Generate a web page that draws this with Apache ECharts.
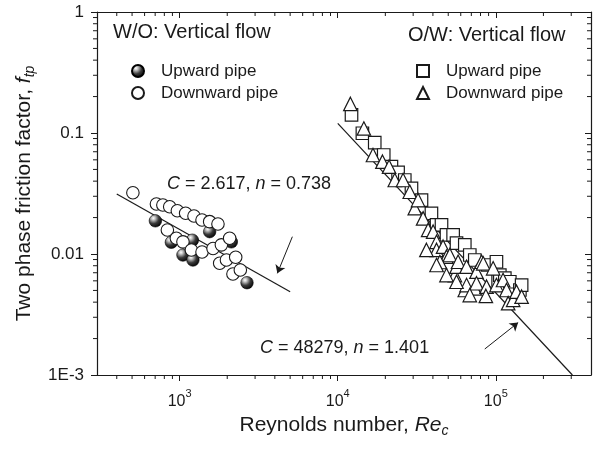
<!DOCTYPE html>
<html>
<head>
<meta charset="utf-8">
<script src="https://cdn.jsdelivr.net/npm/echarts@6/dist/echarts.min.js"></script>
<style>
html,body{margin:0;padding:0;background:#fff;}
#chart{width:597px;height:450px;}
</style>
</head>
<body>
<div id="chart"></div>
<script>
// ---- axis ranges & tick labels ----
const xMin = 300, xMax = 400000;
const yMin = 0.001, yMax = 1;
const xTickExponents = [3, 4, 5];
const yTickValues = [1, 0.1, 0.01, 0.001];
const yTickLabels = ['1', '0.1', '0.01', '1E-3'];
const xMinorTicks = [400,500,600,700,800,900,2000,3000,4000,5000,6000,7000,8000,9000,
  20000,30000,40000,50000,60000,70000,80000,90000,200000,300000];
const yMinorTicks = [0.002,0.003,0.004,0.005,0.006,0.007,0.008,0.009,
  0.02,0.03,0.04,0.05,0.06,0.07,0.08,0.09,0.2,0.3,0.4,0.5,0.6,0.7,0.8,0.9];

// ---- W/O : vertical flow ----
const woUpward = [
  [702,0.0188],[1548,0.0153],[886,0.0125],[1203,0.0130],[1049,0.00981],
  [1213,0.00892],[2123,0.0126],[2667,0.00579]
];
const woDownward = [
  [506,0.0321],[713,0.0259],[783,0.0254],[865,0.0246],[967,0.0228],[1091,0.0217],
  [1232,0.0206],[1385,0.0191],[1548,0.0185],[1747,0.0177],[836,0.0158],[953,0.0135],
  [1049,0.0126],[1186,0.0108],[1385,0.0104],[1626,0.0111],[1836,0.0119],[2071,0.0135],
  [1791,0.00838],[1977,0.00892],[2262,0.00939],[2173,0.00684],[2420,0.00738]
];
// ---- O/W : vertical flow ----
const owUpward = [
  [12220,0.141],[14320,0.0995],[17140,0.0832],[19540,0.0658],[21860,0.0527],
  [24080,0.0473],[26550,0.0409],[29270,0.0349],[33870,0.0279],[39150,0.0217],
  [42170,0.0174],[45330,0.0174],[48740,0.0144],[53690,0.0144],[56400,0.0123],
  [63640,0.0119],[68440,0.00981],[73600,0.00892],[88900,0.00811],[100900,0.00863],
  [103400,0.00610],[106000,0.00670],[114000,0.00633],[122600,0.00590],
  [142000,0.00504],[145600,0.00554]
];
const owDownward = [
  [12020,0.174],[14630,0.109],[16710,0.0658],[19180,0.0579],[21130,0.0527],
  [22960,0.0409],[25900,0.0409],[28550,0.0327],[30710,0.0239],[32220,0.0279],
  [34680,0.0197],[37320,0.0158],[40130,0.0153],[42170,0.0126],[42170,0.0108],
  [46380,0.0115],[48740,0.00950],[51150,0.00981],[44260,0.00859],[55090,0.00670],
  [56400,0.00785],[57720,0.00863],[63640,0.00504],[65280,0.00785],[65280,0.00554],
  [73600,0.00520],[75460,0.00714],[75460,0.00573],[81260,0.00863],[83240,0.00838],
  [87370,0.00537],[96150,0.00762],[100900,0.00554],[111100,0.00610],[116800,0.00504],
  [119700,0.00392],[128700,0.00417],[135200,0.00488],[145600,0.00444],
  [36390,0.0108],[42170,0.00811],[48740,0.00670],[56400,0.00590],[68440,0.00458],
  [86500,0.00450]
];
// ---- correlation lines (end points) ----
const woFit = [[400,0.0313],[5000,0.00487]];
const owFit = [[10000,0.120],[305000,0.001]];
const woArrow = [[5164,0.0139],[4150,0.00692]];
const owArrow = [[85110,0.00164],[138400,0.00271]];

const FONT = '"Liberation Sans", Arial, sans-serif';
const INK = '#1a1a1a';

const sphere = {
  type: 'radial', x: 0.35, y: 0.3, r: 0.75,
  colorStops: [
    {offset: 0, color: '#ffffff'},
    {offset: 0.18, color: '#c8c8c8'},
    {offset: 0.55, color: '#3a3a3a'},
    {offset: 1, color: '#000000'}
  ]
};

function tickSeries(isX) {
  return {
    type: 'custom', coordinateSystem: 'cartesian2d', silent: true, clip: false, z: 5,
    data: isX ? xMinorTicks.map(v => [v, yMin]) : yMinorTicks.map(v => [xMin, v]),
    renderItem: function (params, api) {
      const L = 4;
      const st = {stroke: INK, lineWidth: 1};
      if (isX) {
        const b = api.coord([api.value(0), yMin]);
        const t = api.coord([api.value(0), yMax]);
        return {type: 'group', children: [
          {type: 'line', shape: {x1: b[0], y1: b[1], x2: b[0], y2: b[1] + L}, style: st},
          {type: 'line', shape: {x1: t[0], y1: t[1], x2: t[0], y2: t[1] + L}, style: st}
        ]};
      } else {
        const l = api.coord([xMin, api.value(1)]);
        const r = api.coord([xMax, api.value(1)]);
        return {type: 'group', children: [
          {type: 'line', shape: {x1: l[0], y1: l[1], x2: l[0] - L, y2: l[1]}, style: st},
          {type: 'line', shape: {x1: r[0], y1: r[1], x2: r[0] - L, y2: r[1]}, style: st}
        ]};
      }
    }
  };
}

function arrowLine(pts) {
  return {
    silent: true, symbol: ['none', 'arrow'], symbolSize: 8,
    label: {show: false}, emphasis: {disabled: true},
    lineStyle: {color: INK, width: 1, type: 'solid'},
    data: [[{coord: pts[0]}, {coord: pts[1]}]]
  };
}

const axisCommonX = {
  type: 'log', logBase: 10, min: xMin, max: xMax,
  axisLine: {show: true, onZero: false, lineStyle: {color: INK, width: 1.2}},
  splitLine: {show: false}
};
const axisCommonY = {
  type: 'log', logBase: 10, min: yMin, max: yMax,
  axisLine: {show: true, onZero: false, lineStyle: {color: INK, width: 1.2}},
  splitLine: {show: false}
};

const legendText = {fontFamily: FONT, fontSize: 17, color: INK, lineHeight: 18, padding: [0, 0, 0, 12]};

const option = {
  animation: false,
  backgroundColor: '#fff',
  grid: {left: 97, right: 6, top: 12, bottom: 75},
  xAxis: [
    Object.assign({}, axisCommonX, {
      position: 'bottom',
      axisTick: {show: true, inside: false, length: 6, lineStyle: {color: INK}},
      axisLabel: {
        show: true, margin: 13, showMinLabel: false, showMaxLabel: false,
        formatter: function (v) {
          const e = Math.round(Math.log10(v));
          if (Math.abs(Math.log10(v) - e) > 1e-6 || xTickExponents.indexOf(e) < 0) return '';
          return '{b|10}{s|' + e + '}';
        },
        rich: {
          b: {fontFamily: FONT, fontSize: 16, color: INK, lineHeight: 22, verticalAlign: 'bottom'},
          s: {fontFamily: FONT, fontSize: 11, color: INK, lineHeight: 22, verticalAlign: 'top', padding: [0, 0, 8, 0]}
        }
      },
      name: 'Reynolds number, {i|Re}{sub|c}',
      nameLocation: 'middle', nameGap: 37,
      nameTextStyle: {
        fontFamily: FONT, fontSize: 21, color: INK,
        rich: {
          i: {fontFamily: FONT, fontSize: 21, fontStyle: 'italic', color: INK},
          sub: {fontFamily: FONT, fontSize: 14, fontStyle: 'italic', color: INK, padding: [12, 0, 0, 0]}
        }
      }
    }),
    Object.assign({}, axisCommonX, {
      position: 'top',
      axisTick: {show: true, inside: true, length: 6, lineStyle: {color: INK}},
      axisLabel: {show: false}
    })
  ],
  yAxis: [
    Object.assign({}, axisCommonY, {
      position: 'left',
      axisTick: {show: true, inside: false, length: 6, lineStyle: {color: INK}},
      axisLabel: {
        show: true, margin: 13, fontFamily: FONT, fontSize: 17, color: INK,
        formatter: function (v) {
          for (let i = 0; i < yTickValues.length; i++) {
            if (Math.abs(Math.log10(v) - Math.log10(yTickValues[i])) < 1e-6) return yTickLabels[i];
          }
          return '';
        }
      },
      name: 'Two phase friction factor, {i|f}{sub|tp}',
      nameLocation: 'middle', nameGap: 57, nameRotate: 90,
      nameTextStyle: {
        fontFamily: FONT, fontSize: 21, color: INK,
        rich: {
          i: {fontFamily: FONT, fontSize: 21, fontStyle: 'italic', color: INK},
          sub: {fontFamily: FONT, fontSize: 14, fontStyle: 'italic', color: INK, padding: [12, 0, 0, 0]}
        }
      }
    }),
    Object.assign({}, axisCommonY, {
      position: 'right',
      axisTick: {show: true, inside: true, length: 6, lineStyle: {color: INK}},
      axisLabel: {show: false}
    })
  ],
  legend: [
    {
      data: ['W/O Upward pipe', 'W/O Downward pipe'],
      orient: 'vertical', left: 126, top: 57, itemGap: 4,
      itemWidth: 12, itemHeight: 12, selectedMode: false,
      formatter: n => n.replace('W/O ', ''), textStyle: legendText
    },
    {
      data: ['O/W Upward pipe', 'O/W Downward pipe'],
      orient: 'vertical', left: 411, top: 57, itemGap: 4,
      itemWidth: 12, itemHeight: 12, selectedMode: false,
      formatter: n => n.replace('O/W ', ''), textStyle: legendText
    }
  ],
  graphic: [
    {type: 'text', left: 113, top: 22, style: {text: 'W/O: Vertical flow', font: '20px ' + FONT, fill: INK}},
    {type: 'text', left: 408, top: 25, style: {text: 'O/W: Vertical flow', font: '20px ' + FONT, fill: INK}},
    {type: 'text', left: 167, top: 175, style: {
      text: '{i|C} = 2.617, {i|n} = 0.738', font: '18px ' + FONT, fill: INK,
      rich: {i: {fontStyle: 'italic', fontFamily: FONT, fontSize: 18, fill: INK}}
    }},
    {type: 'text', left: 260, top: 339, style: {
      text: '{i|C} = 48279, {i|n} = 1.401', font: '18px ' + FONT, fill: INK,
      rich: {i: {fontStyle: 'italic', fontFamily: FONT, fontSize: 18, fill: INK}}
    }}
  ],
  series: [
    {
      type: 'line', data: woFit, showSymbol: false, symbol: 'none', silent: true, z: 1,
      lineStyle: {color: INK, width: 1.2}, markLine: arrowLine(woArrow)
    },
    {
      type: 'line', data: owFit, showSymbol: false, symbol: 'none', silent: true, z: 1,
      lineStyle: {color: INK, width: 1.2}, markLine: arrowLine(owArrow)
    },
    {
      name: 'W/O Upward pipe', type: 'scatter', data: woUpward, symbol: 'circle', symbolSize: 12.5, z: 2,
      itemStyle: {color: sphere, borderColor: '#000', borderWidth: 0.6, opacity: 1}
    },
    {
      name: 'W/O Downward pipe', type: 'scatter', data: woDownward, symbol: 'circle', symbolSize: 12.5, z: 3,
      itemStyle: {color: '#fff', borderColor: INK, borderWidth: 1.1, opacity: 1}
    },
    {
      name: 'O/W Upward pipe', type: 'scatter', data: owUpward, symbol: 'rect', symbolSize: 12.5, z: 2,
      itemStyle: {color: '#fff', borderColor: INK, borderWidth: 1.2, opacity: 1}
    },
    {
      name: 'O/W Downward pipe', type: 'scatter', data: owDownward, symbol: 'triangle', symbolSize: 13.5, z: 3,
      itemStyle: {color: '#fff', borderColor: INK, borderWidth: 1.2, opacity: 1}
    },
    tickSeries(true),
    tickSeries(false)
  ]
};

const chart = echarts.init(document.getElementById('chart'), null, {renderer: 'canvas'});
chart.setOption(option);
</script>
</body>
</html>
